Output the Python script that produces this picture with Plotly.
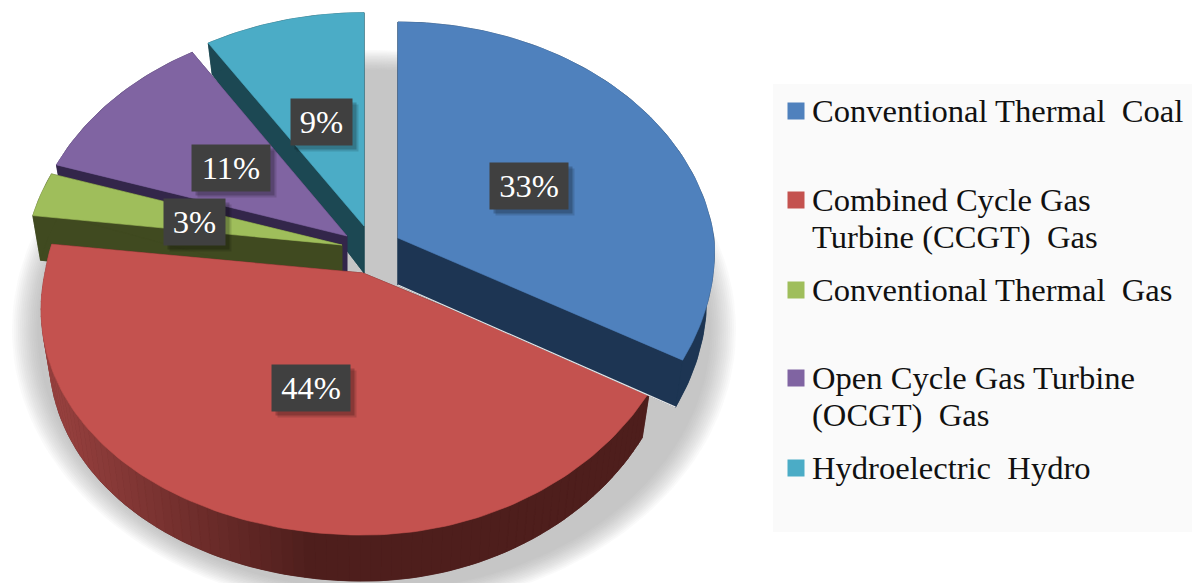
import math
import plotly.graph_objects as go

# ---- data ----
categories = [
    "Conventional Thermal\u00a0\u00a0Coal",
    "Combined Cycle Gas<br>Turbine (CCGT)\u00a0\u00a0Gas",
    "Conventional Thermal\u00a0\u00a0Gas",
    "Open Cycle Gas Turbine<br>(OCGT)\u00a0\u00a0Gas",
    "Hydroelectric\u00a0\u00a0Hydro",
]
shares = [33, 44, 3, 11, 9]

# ---- styling and geometry of the tilted, exploded pie ----
top_colors = ["#4F81BD", "#C4524F", "#9FBE5B", "#8064A2", "#4BACC6"]
wall_colors = ["#1D3553", "#4E1E1C", "#404A20", "#33264A", "#1C4853"]
apex_x = [398, 363, 342, 347, 364]
apex_y = [238, 273, 245, 236, 226]
radius_x = [316, 318, 316, 316, 318]
radius_y = [240, 233, 238, 238, 237]
depth = [47, 46, 47, 47, 47]
draw_order = [4, 3, 2, 1, 0]
legend_swatch_y = [111, 200, 290, 378, 468]
legend_line_gap = 37
label_width = [78, 78, 61, 78, 61]
label_dx = [-1, 1, 5, 5, 0]
label_dy = [7, -2, 3, 3, 4]
PERSP = 0.111
FONT = "Liberation Serif"
FONT_SIZE = 32.6

total = sum(shares)
starts = [sum(shares[:i]) / total * 2 * math.pi for i in range(len(shares))]
ends = [sum(shares[:i + 1]) / total * 2 * math.pi for i in range(len(shares))]


def project(i, a, r=1.0):
    s, c = math.sin(a), math.cos(a)
    v = -c * r
    w = 1 - PERSP * v
    if v <= 0:
        wx = w
    else:
        wx = w ** 0.5 if s > 0 else w ** 1.4
    return apex_x[i] + radius_x[i] * r * s / wx, apex_y[i] + radius_y[i] * v / w


def lower(i, a, r=1.0):
    x, y = project(i, a, r)
    v = -math.cos(a) * r
    f = 1 + 0.4 * v if v < 0 else 1
    return apex_x[i] + (x - apex_x[i]) * 0.975, y + depth[i] * f


def arc(fn, i, a0, a1, n=None):
    n = n or max(2, int((a1 - a0) / 0.02))
    return [fn(i, a0 + (a1 - a0) * k / n) for k in range(n + 1)]


def polygon(pts, color, name=None):
    xs = [p[0] for p in pts] + [pts[0][0]]
    ys = [p[1] for p in pts] + [pts[0][1]]
    return go.Scatter(x=xs, y=ys, mode="lines", fill="toself", fillcolor=color,
                      line=dict(color=color, width=0.6), hoverinfo="skip",
                      showlegend=False, name=name)


def mix(c0, c1, t):
    t = max(0, min(1, t))
    a = [int(c0[j:j + 2], 16) for j in (1, 3, 5)]
    b = [int(c1[j:j + 2], 16) for j in (1, 3, 5)]
    return "#" + "".join(f"{round(p + (q - p) * t):02x}" for p, q in zip(a, b))


fig = go.Figure()

# soft shadow on the ground
SH_X, SH_Y, SH_RX, SH_RY = 374, 330, 362, 280
layers = 14
for k in range(layers):
    f = 1 - 0.07 * k / (layers - 1)
    pts = [(SH_X + SH_RX * f * math.cos(t / 90 * math.pi), SH_Y + SH_RY * f * math.sin(t / 90 * math.pi))
           for t in range(180)]
    fig.add_trace(go.Scatter(x=[p[0] for p in pts] + [pts[0][0]], y=[p[1] for p in pts] + [pts[0][1]],
                             mode="lines", fill="toself", fillcolor="rgba(150,150,150,0.0465)",
                             line=dict(width=0), hoverinfo="skip", showlegend=False))

# slices, back to front
for i in draw_order:
    a0, a1 = starts[i], ends[i]
    bottom = [lower(i, a0, 0)] + arc(lower, i, a0, a1)
    fig.add_trace(polygon(bottom, wall_colors[i]))
    for a in (a0, a1):
        fig.add_trace(polygon([project(i, a, 0), project(i, a), lower(i, a), lower(i, a, 0)], wall_colors[i]))
    if i == 1:  # lit outer wall: lighter towards the left
        n = 90
        for k in range(n):
            b0 = a0 + (a1 - a0) * k / n
            b1 = a0 + (a1 - a0) * (k + 1) / n
            pts = arc(project, i, b0, b1, 2) + arc(lower, i, b0, b1, 2)[::-1]
            xm = sum(p[0] for p in pts) / len(pts)
            fig.add_trace(polygon(pts, mix("#96403E", "#4E1E1C", (xm - 60) / 250)))
    else:
        pts = arc(project, i, a0, a1) + arc(lower, i, a0, a1)[::-1]
        fig.add_trace(polygon(pts, wall_colors[i]))
    fig.add_trace(polygon([project(i, a0, 0)] + arc(project, i, a0, a1), top_colors[i],
                          name=categories[i].replace("<br>", " ")))
    if i == 0:  # thin bright seam under the blue wall
        p, q = lower(i, a1, 0), lower(i, a1)
        fig.add_trace(go.Scatter(x=[p[0], q[0]], y=[p[1], q[1]], mode="lines",
                                 line=dict(color="#E6E6E6", width=1.2), hoverinfo="skip", showlegend=False))

# legend swatches
fig.add_trace(go.Scatter(x=[796] * len(categories), y=legend_swatch_y, mode="markers",
                         marker=dict(symbol="square", size=17, color=top_colors), hoverinfo="skip", showlegend=False))

annotations = []
for name, y in zip(categories, legend_swatch_y):
    for j, line in enumerate(name.split("<br>")):
        annotations.append(dict(x=810, y=y + j * legend_line_gap, xref="x", yref="y", text=line, showarrow=False,
                                xanchor="left", yanchor="middle", align="left",
                                font=dict(family=FONT, size=FONT_SIZE, color="#111111")))

for i, share in enumerate(shares):
    x, y = project(i, (starts[i] + ends[i]) / 2, 0.5)
    x += label_dx[i]
    y += label_dy[i]
    common = dict(x=x, y=y, xref="x", yref="y", showarrow=False, width=label_width[i], height=46, borderpad=0,
                  xanchor="center", yanchor="middle", align="center", valign="middle")
    annotations.append(dict(text="\u00a0", xshift=6, yshift=-6, bgcolor="rgba(0,0,0,0.13)",
                            font=dict(family=FONT, size=FONT_SIZE), **common))
    annotations.append(dict(text="\u00a0", xshift=4, yshift=-4, bgcolor="rgba(0,0,0,0.2)",
                            font=dict(family=FONT, size=FONT_SIZE), **common))
    annotations.append(dict(text=f"{share}%", bgcolor="#404040",
                            font=dict(family=FONT, size=FONT_SIZE, color="#FFFFFF"), **common))

fig.update_layout(
    width=1192, height=583, margin=dict(l=0, r=0, t=0, b=0), showlegend=False,
    paper_bgcolor="#FFFFFF", plot_bgcolor="#FFFFFF",
    xaxis=dict(range=[0, 1192], visible=False, fixedrange=True),
    yaxis=dict(range=[583, 0], visible=False, fixedrange=True),
    shapes=[dict(type="rect", xref="x", yref="y", x0=773, x1=1192, y0=84, y1=532, layer="below",
                 fillcolor="#FAFAFA", line=dict(width=0))],
    annotations=annotations,
)

fig.write_html("out.html", config={"displayModeBar": False},
               post_script="document.body.style.margin='0';")
